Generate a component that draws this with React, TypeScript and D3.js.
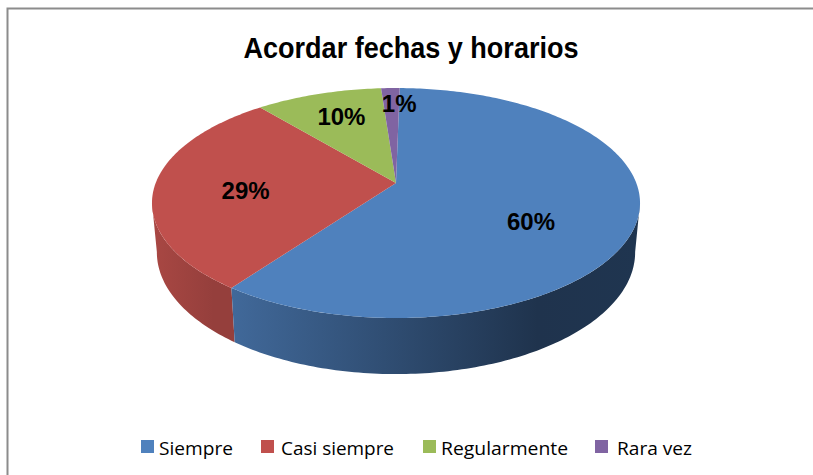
import React from "react";
import * as d3 from "d3";

const categories = ["Siempre", "Casi siempre", "Regularmente", "Rara vez"];
const values = [59.7, 28.9, 9.9, 1.45];
const topColors = ["#4f81bd", "#c0504d", "#9bbb59", "#8064a2"];
const wallStops = [
  ["#41699a", "#1f334d", "#1f3550"],
  ["#a84743", "#953f3c", "#953f3c"],
];
const titleText = "Acordar fechas y horarios";

const W = 813, H = 475;
const cx = 396, cy = 183, rx = 240.3, ry = 111.5, k = 0.174;
const wallDepth = 48, shrinkX = 0.98, stretchY = 1.06;

function project(a: number, bottom = false): [number, number] {
  const x = Math.sin(a), y = -Math.cos(a);
  const w = 1 - k * y;
  const X = (rx * x) / w, Y = (ry * y) / w;
  return bottom ? [cx + X * shrinkX, cy + wallDepth + Y * stretchY] : [cx + X, cy + Y];
}

const pie = d3.pie<number>().sort(null).startAngle(0.018).endAngle(0.018 + 2 * Math.PI)(values);
const line = d3.line();

function arcPts(a0: number, a1: number, bottom = false) {
  const n = Math.max(2, Math.ceil(Math.abs(a1 - a0) * 60));
  return d3.range(n + 1).map((i) => project(a0 + ((a1 - a0) * i) / n, bottom));
}

export default function App() {
  const sl = pie;
  const rightA = Math.PI * 0.555;
  const leftA = Math.PI * 1.445;
  const blueWall = [...arcPts(rightA, sl[0].endAngle), ...arcPts(sl[0].endAngle, rightA, true)];
  const redWall = [...arcPts(sl[1].startAngle, leftA), ...arcPts(leftA, sl[1].startAngle, true)];
  const labelPos: [number, number][] = sl.map((s, i) => {
    const m = (s.startAngle + s.endAngle) / 2;
    const f = [0.52, 0.62, 0.74, 0.84][i];
    const x = Math.sin(m) * f, y = -Math.cos(m) * f;
    const w = 1 - k * y;
    return [cx + (rx * x) / w, cy + (ry * y) / w];
  });
  const labelNudge = [[13, 20], [-1, 5], [5, 2], [8, 2]];
  const legendX = [141, 261, 423, 595];
  const legendTextX = [159, 281, 441, 617];
  const legendW = [74, 113, 127, 75];
  const pct = d3.sum(values);
  return (
    <svg width={W} height={H} style={{ position: "absolute", left: 0, top: 0 }}>
      <defs>
        {wallStops.map((st, i) => (
          <linearGradient key={i} id={`w${i}`} gradientUnits="userSpaceOnUse"
            x1={i === 0 ? 230 : 155} x2={i === 0 ? 640 : 233} y1={0} y2={0}>
            <stop offset="0" stopColor={st[0]} />
            <stop offset="0.75" stopColor={st[1]} />
            <stop offset="1" stopColor={st[2]} />
          </linearGradient>
        ))}
      </defs>
      <rect width={W} height={H} fill="#fff" />
      <path d={`M7.5,${H}V8.5H${W}`} fill="none" stroke="#8c8c8c" strokeWidth={2} />
      <text x={411} y={58} textAnchor="middle" fontFamily="'Liberation Sans'" fontWeight={700}
        fontSize={30} fill="#000" textLength={335} lengthAdjust="spacingAndGlyphs">{titleText}</text>
      <path d={line(redWall)! + "Z"} fill="url(#w1)" />
      <path d={line(blueWall)! + "Z"} fill="url(#w0)" />
      {sl.map((s, i) => (
        <path key={i} fill={topColors[i]}
          d={line([[cx, cy], ...arcPts(s.startAngle, s.endAngle)])! + "Z"} />
      ))}
      {sl.map((s, i) => (
        <text key={i} x={labelPos[i][0] + labelNudge[i][0]} y={labelPos[i][1] + labelNudge[i][1]}
          textAnchor="middle" dominantBaseline="central" fontFamily="'Liberation Sans'"
          fontWeight={700} fontSize={24} fill="#000">
          {`${Math.round((s.value / pct) * 100)}%`}
        </text>
      ))}
      {categories.map((c, i) => (
        <g key={c}>
          <rect x={legendX[i]} y={440} width={13} height={13} fill={topColors[i]} />
          <text x={legendTextX[i]} y={455} fontFamily="'Open Sans'" fontSize={19} fill="#000"
            textLength={legendW[i]} lengthAdjust="spacingAndGlyphs">{c}</text>
        </g>
      ))}
    </svg>
  );
}
